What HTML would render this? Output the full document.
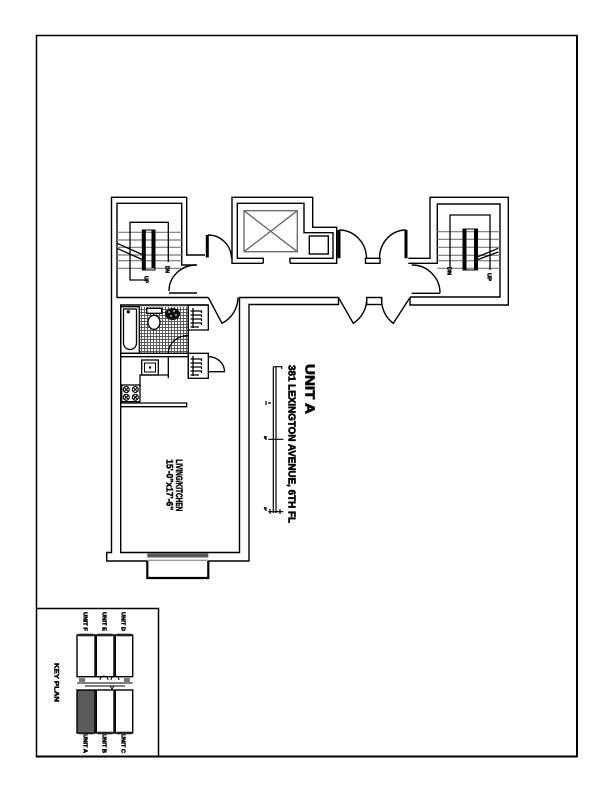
<!DOCTYPE html>
<html><head><meta charset="utf-8"><style>
html,body{margin:0;padding:0;background:#fff;}
svg{display:block;}
text{font-family:"Liberation Sans",sans-serif;font-weight:bold;fill:#000;stroke:#000;stroke-width:0.45;}
</style></head><body>
<svg width="612" height="792" viewBox="0 0 612 792" xmlns="http://www.w3.org/2000/svg">
<defs>
<pattern id="tile" width="3" height="3" patternUnits="userSpaceOnUse"><rect width="3" height="3" fill="#fff"/><path d="M0 0.5H3M0.5 0V3" stroke="#5a5a5a" stroke-width="1"/></pattern>
</defs>
<rect width="612" height="792" fill="#fff"/>
<!-- page border -->
<path d="M36.5 35.5H577V756.5H36.5Z" fill="none" stroke="#000" stroke-width="1.5"/>
<path d="M577 35V757M36 756.5H577" stroke="#000" stroke-width="2"/>
<!-- key plan box -->
<path d="M36 608.5H158.5V756" fill="none" stroke="#000" stroke-width="1.5"/>

<g fill="none" stroke="#000" stroke-width="1.4">
<path d="M205 255H186.7V197.3H111.5V552.5H106.7V561H147.3"/>
<path d="M196.7 265H181.7V203.3H117V297.5H208.3"/>
<path d="M208.3 305H120.7V552.5H239.5V297.5H338.5V304.5H249V561H208.3"/>
<path d="M147.3 561V578H208.3V561" stroke-width="2.2"/>
<path d="M196.7 265A27.5 26 0 0 0 169 291"/>
<path d="M169 293H197"/>
<path d="M208 235A23.5 23.5 0 0 1 231.5 258.3"/>
<path d="M263.3 263.3H232V197.3H312.7V227.3H336.7V263.3H290"/>
<path d="M263.3 263.3V258.3H237.3V203.3H304V232.7H333V258.3H290V263.3"/>
<rect x="309.3" y="236" width="19" height="18"/>
<path d="M339 230A27.5 28.3 0 0 1 366.5 258.3"/>
<rect x="365.5" y="258.3" width="14.5" height="5"/>
<path d="M379.5 258.3A26.5 28.3 0 0 1 406 230"/>
<path d="M408.3 258.3H430V197.3H508.3V305H410V297.5"/>
<path d="M408.3 263.3H437.3V204H500V297H410"/>
<path d="M411.7 265A28 28 0 0 1 440 293.3"/>
<path d="M411.7 293.3H440"/>
<path d="M338.5 297.5L353.3 323.3A29 29 0 0 0 366.7 297.5"/>
<rect x="366.7" y="297.5" width="15" height="7"/>
<path d="M381.7 297.5A29 29 0 0 0 393.3 323.3L410 297.5"/>
<path d="M208.3 297.5L222 323.3A29.5 29.5 0 0 0 238 297.5"/>
</g>
<path d="M207.3 235V257.5M339 230V258.3M406 230V258.3" stroke="#000" stroke-width="3"/>

<g stroke="#666" stroke-width="1.3" fill="none">
<rect x="244" y="210.7" width="53.3" height="41"/>
<path d="M244 210.7L297.3 251.7M297.3 210.7L244 251.7"/>
</g>

<g stroke="#777" stroke-width="1.2">
<path d="M117 232.3H181.7M117 240H181.7M117 247.3H181.7M117 255H181.7M117 260.7H181.7M117 268.3H181.7"/>
<path d="M437.3 231.7H500M437.3 239.3H500M437.3 247.3H500M437.3 255.3H500M437.3 260.7H500M437.3 268.3H500"/>
</g>
<g fill="none" stroke="#000" stroke-width="1.3">
<path d="M168.3 262V222.3H130V280H146.7"/>
<rect x="142.3" y="230" width="12.7" height="40" stroke-width="1"/>
<path d="M117 243.3L143.3 255M117 248.3L143.3 260"/>
<path d="M450 268V215H490V270"/>
<rect x="463" y="229" width="14.5" height="41" stroke-width="1"/>
<path d="M474 258.3L498.3 248.3M474 261L498.3 252"/>
</g>
<rect x="142.3" y="230" width="3.5" height="40" fill="#000"/>
<rect x="151.5" y="230" width="3.5" height="38" fill="#000"/>
<rect x="463" y="229" width="3.5" height="41" fill="#000"/>
<rect x="474" y="229" width="3.5" height="41" fill="#000"/>
<text transform="translate(165.5,266) rotate(90)" font-size="5" textLength="7" lengthAdjust="spacingAndGlyphs">DN</text>
<text transform="translate(144.5,276) rotate(90)" font-size="5" textLength="7" lengthAdjust="spacingAndGlyphs">UP</text>
<text transform="translate(447.5,267) rotate(90)" font-size="5" textLength="8" lengthAdjust="spacingAndGlyphs">DN</text>
<text transform="translate(487.5,273) rotate(90)" font-size="5" textLength="8" lengthAdjust="spacingAndGlyphs">UP</text>

<rect x="147.3" y="553.5" width="61" height="4" fill="#555"/>
<path d="M147.3 560.3H208.3" stroke="#777" stroke-width="1"/>

<rect x="140" y="306.7" width="48.3" height="46.6" fill="url(#tile)"/>
<g fill="none" stroke="#000" stroke-width="1.3">
<rect x="120.7" y="306.7" width="18.6" height="46.6"/>
<path d="M123.5 309H136.5V343A6.5 6.5 0 0 1 123.5 343Z"/>
<circle cx="128.3" cy="311.8" r="1"/>
<rect x="146.7" y="308.3" width="15" height="5" fill="#fff"/>
<ellipse cx="154" cy="322.3" rx="6" ry="7" fill="#fff"/>
<path d="M168.3 353.3A20 18 0 0 1 188.3 335.5"/>
<path d="M120.7 353.3H188.3M120.7 356.7H188.3"/>
<path d="M188.3 305V378.3M168.3 356.7V378.3"/>
<rect x="188.3" y="305" width="20" height="25"/>
<rect x="188.3" y="353.3" width="20" height="25"/>
<path d="M208.3 356.7A16 15 0 0 1 224.5 371.7H208.3"/>
<rect x="141.7" y="360" width="16.6" height="15"/>
<rect x="144.5" y="363" width="11" height="9" stroke-width="1"/>
<path d="M140 386.7V375H168.3"/>
<rect x="121.7" y="385" width="18.3" height="16.7"/>
<path d="M120.7 403H186.7V406.7H120.7"/>
</g>
<ellipse cx="172.5" cy="314" rx="7.5" ry="6" fill="#111"/>
<path d="M168 312h2M173 311h2M170 316h2M175 315h2" stroke="#fff" stroke-width="1"/>
<circle cx="150" cy="367.5" r="1.2" fill="#000"/>
<g stroke="#000" stroke-width="1.3" fill="none">
<path d="M193 308V328M190.5 311H201.5V313M190.5 315H201.5V317M190.5 319H201.5V321M190.5 323H201.5V325M190.5 327H199"/>
<path d="M193 356V376M190.5 359H201.5V361M190.5 363H201.5V365M190.5 367H201.5V369M190.5 371H201.5V373M190.5 375H199"/>
</g>
<g stroke="#000" stroke-width="1.1" fill="none">
<circle cx="126.3" cy="389.5" r="3"/><circle cx="135.3" cy="389.5" r="3"/>
<circle cx="126.3" cy="397.3" r="3"/><circle cx="135.3" cy="397.3" r="3"/>
<path d="M124.3 387.5l4 4M128.3 387.5l-4 4M133.3 387.5l4 4M137.3 387.5l-4 4M124.3 395.3l4 4M128.3 395.3l-4 4M133.3 395.3l4 4M137.3 395.3l-4 4"/>
</g>

<text transform="translate(176,459.3) rotate(90)" font-size="9" textLength="52" lengthAdjust="spacingAndGlyphs">LIVING/KITCHEN</text>
<text transform="translate(166.7,459.3) rotate(90)" font-size="9" textLength="51" lengthAdjust="spacingAndGlyphs">15'-0"x17'-6"</text>

<text transform="translate(305.5,364) rotate(90)" font-size="13" textLength="50" lengthAdjust="spacingAndGlyphs" style="stroke-width:0.7">UNIT A</text>
<text transform="translate(288.5,365) rotate(90)" font-size="10" textLength="158" lengthAdjust="spacingAndGlyphs" style="stroke-width:0.6">381 LEXINGTON AVENUE, 6TH FL</text>

<g stroke="#000" stroke-width="1.2" fill="none">
<path d="M273.3 366.7V513M276 366.7V513"/>
<path d="M273.3 366.7H281.7V369"/>
<path d="M268.3 439.3H283.3M268.3 511.7H283.3M280 509V514M270 509V514"/>
<path d="M266 401v4M268 403h3"/>
</g>
<text transform="translate(264,436) rotate(90)" font-size="4" textLength="4" lengthAdjust="spacingAndGlyphs">5'</text>
<text transform="translate(264,507) rotate(90)" font-size="4" textLength="4" lengthAdjust="spacingAndGlyphs">0'</text>

<text transform="translate(54.5,663) rotate(90)" font-size="6" textLength="39" lengthAdjust="spacingAndGlyphs">KEY PLAN</text>
<text transform="translate(83.3,612) rotate(90)" font-size="5" textLength="19" lengthAdjust="spacingAndGlyphs">UNIT F</text>
<text transform="translate(102.6,612) rotate(90)" font-size="5" textLength="19" lengthAdjust="spacingAndGlyphs">UNIT E</text>
<text transform="translate(121.5,612) rotate(90)" font-size="5" textLength="19" lengthAdjust="spacingAndGlyphs">UNIT D</text>
<text transform="translate(83.3,734) rotate(90)" font-size="5" textLength="19" lengthAdjust="spacingAndGlyphs">UNIT A</text>
<text transform="translate(102.6,734) rotate(90)" font-size="5" textLength="19" lengthAdjust="spacingAndGlyphs">UNIT B</text>
<text transform="translate(121.5,734) rotate(90)" font-size="5" textLength="19" lengthAdjust="spacingAndGlyphs">UNIT C</text>
<rect x="77" y="690" width="18" height="43" fill="#5a5a5a"/>
<g fill="#777">
<rect x="78" y="633.5" width="16" height="3" rx="1.5"/>
<rect x="97" y="633.5" width="16" height="3" rx="1.5"/>
<rect x="116" y="633.5" width="16" height="3" rx="1.5"/>
<rect x="78" y="731.5" width="16" height="3" rx="1.5"/>
<rect x="97" y="731.5" width="16" height="3" rx="1.5"/>
<rect x="116" y="731.5" width="16" height="3" rx="1.5"/>
<rect x="79" y="678" width="6" height="4"/>
<rect x="124" y="678" width="6" height="4"/>
</g>
<g fill="none" stroke="#000" stroke-width="1.4">
<rect x="77" y="635" width="18" height="41.7"/>
<rect x="96.3" y="635" width="17.7" height="41.7"/>
<rect x="115.3" y="635" width="17.4" height="41.7"/>
<rect x="77" y="690" width="18" height="43"/>
<rect x="96.3" y="690" width="17.7" height="43"/>
<rect x="115.3" y="690" width="17.4" height="43"/>
<path d="M77 683H132.7M85 686H125" stroke-width="1"/>
<path d="M100 680A4 4 0 0 1 108 680M111 680A4 4 0 0 1 119 680M110 686l2 3l2-3" stroke-width="1"/>
</g>
</svg>
</body></html>
